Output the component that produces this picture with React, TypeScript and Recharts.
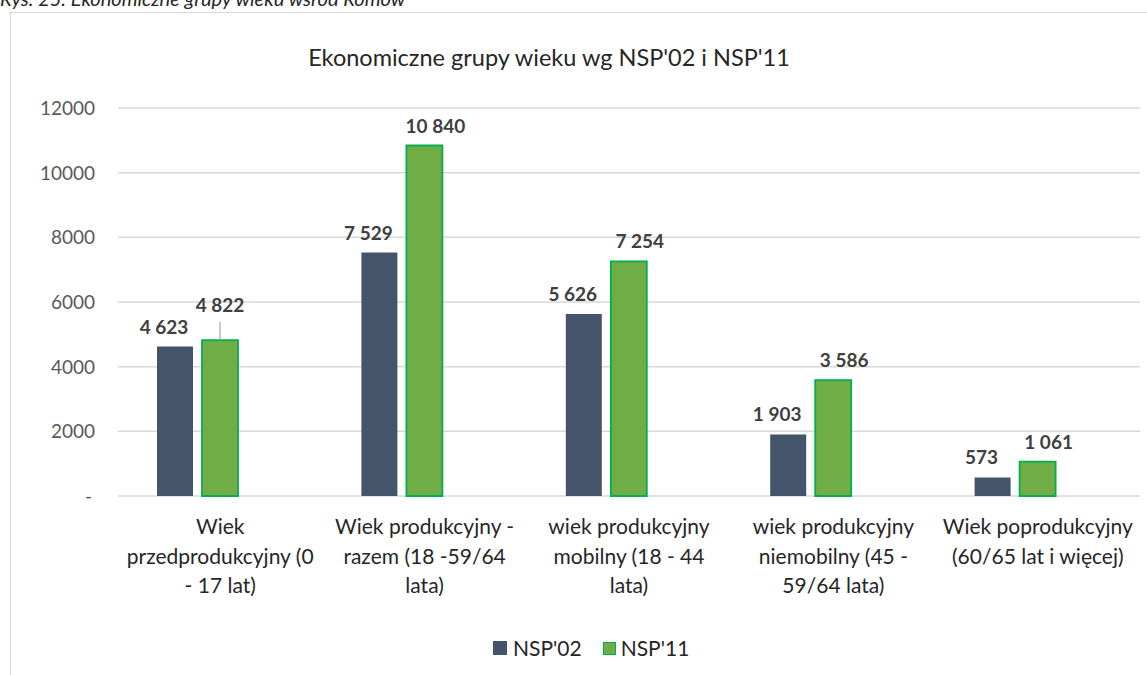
import { BarChart, Bar, XAxis, YAxis, CartesianGrid, LabelList } from "recharts";

const categories = [
  "Wiek\nprzedprodukcyjny (0\n- 17 lat)",
  "Wiek produkcyjny -\nrazem (18 -59/64\nlata)",
  "wiek produkcyjny\nmobilny (18 - 44\nlata)",
  "wiek produkcyjny\nniemobilny (45 -\n59/64 lata)",
  "Wiek poprodukcyjny\n(60/65 lat i więcej)",
];
const nsp02 = [4623, 7529, 5626, 1903, 573];
const nsp11 = [4822, 10840, 7254, 3586, 1061];
const yTicks = [0, 2000, 4000, 6000, 8000, 10000, 12000];

const data = categories.map((name, i) => ({ name, nsp02: nsp02[i], nsp11: nsp11[i], pad: null }));

const FONT = "Lato, 'Open Sans', sans-serif";
const DARK = "#44546a";
const GREEN = "#70ad47";
const GREEN_EDGE = "#00b050";

const fmt = (v: number) => String(v).replace(/\B(?=(\d{3})+(?!\d))/g, " ");

const CatTick = ({ x, y, payload }: any) => {
  const lines = String(payload.value).split("\n");
  return (
    <g>
      {lines.map((l, i) => (
        <text key={i} x={x} y={y + 38 + i * 29.5} textAnchor="middle" fontFamily={FONT} fontSize={21} fill="#262626">
          {l}
        </text>
      ))}
    </g>
  );
};

const ValTick = ({ y, payload }: any) => (
  <text x={payload.value === 0 ? 92 : 95} y={y + 7} textAnchor="end" fontFamily={FONT} fontSize={19} fill="#595959">
    {payload.value === 0 ? "-" : payload.value}
  </text>
);

const makeLabel = (shift: number, series: string) => (props: any) => {
  const { x, y, width, value, index } = props;
  const cx = x + width / 2;
  // the first green label sits higher with a leader line
  if (series === "nsp11" && index === 0) {
    return (
      <g>
        <line x1={cx} x2={cx} y1={y - 18} y2={y} stroke="#a6a6a6" strokeWidth={1.2} />
        <text x={cx} y={y - 28} textAnchor="middle" fontFamily={FONT} fontWeight={700} fontSize={19} fill="#404040">
          {fmt(value)}
        </text>
      </g>
    );
  }
  return (
    <text x={cx + shift} y={y - 13} textAnchor="middle" fontFamily={FONT} fontWeight={700} fontSize={19} fill="#404040">
      {fmt(value)}
    </text>
  );
};

const LegendBox = () => (
  <div style={{ position: "absolute", top: 636, left: 493, display: "flex", fontFamily: FONT, fontSize: 21, color: "#262626", lineHeight: "24px" }}>
    <span style={{ display: "flex", alignItems: "center", marginRight: 21 }}>
      <span style={{ width: 14, height: 14, background: DARK, marginRight: 6, display: "inline-block" }} />
      NSP'02
    </span>
    <span style={{ display: "flex", alignItems: "center" }}>
      <span style={{ width: 11, height: 11, background: GREEN, border: `1.5px solid ${GREEN_EDGE}`, marginRight: 5, display: "inline-block" }} />
      NSP'11
    </span>
  </div>
);

export default function App() {
  return (
    <div style={{ position: "absolute", left: 0, top: 0, width: 1147, height: 675, overflow: "hidden", background: "#fff" }}>
      <div style={{ position: "absolute", left: 10, top: 12, width: 1400, height: 900, border: "1.5px solid #d9d9d9" }} />
      <svg style={{ position: "absolute", left: 0, top: 0 }} width={1147} height={100}>
        <text x={0} y={6} fontFamily={FONT} fontStyle="italic" fontSize={20} fill="#262626">
          Rys. 25. Ekonomiczne grupy wieku wśród Romów
        </text>
        <text x={549} y={66} textAnchor="middle" fontFamily={FONT} fontSize={23.5} fill="#262626">
          Ekonomiczne grupy wieku wg NSP'02 i NSP'11
        </text>
      </svg>
      <div style={{ position: "absolute", left: 0, top: 0 }}>
        <BarChart
          width={1147}
          height={675}
          data={data}
          margin={{ top: 108, right: 7, bottom: 0, left: 0 }}
          barCategoryGap={39}
          barGap={9}
        >
          <CartesianGrid vertical={false} stroke="#d9d9d9" strokeWidth={1.5} />
          <XAxis dataKey="name" axisLine={false} tickLine={false} tickSize={0} tickMargin={0} height={179} interval={0} tick={<CatTick />} />
          <YAxis width={118} domain={[0, 12000]} ticks={yTicks} axisLine={false} tickLine={false} tick={<ValTick />} />
          <Bar dataKey="nsp02" name="NSP'02" fill={DARK} isAnimationActive={false}>
            <LabelList dataKey="nsp02" content={makeLabel(-11, "nsp02")} />
          </Bar>
          <Bar dataKey="nsp11" name="NSP'11" fill={GREEN} stroke={GREEN_EDGE} strokeWidth={1.8} isAnimationActive={false}>
            <LabelList dataKey="nsp11" content={makeLabel(11, "nsp11")} />
          </Bar>
          <Bar dataKey="pad" legendType="none" fill="none" isAnimationActive={false} />
        </BarChart>
      </div>
      <LegendBox />
    </div>
  );
}
